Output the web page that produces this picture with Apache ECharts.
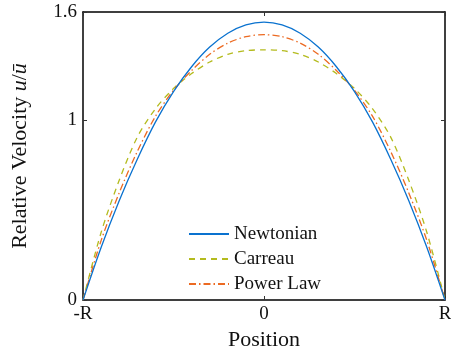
<!DOCTYPE html>
<html>
<head>
<meta charset="utf-8">
<script src="https://cdn.jsdelivr.net/npm/echarts@6/dist/echarts.min.js"></script>
<style>
  html, body { margin: 0; padding: 0; background: #fff; }
  #chart { width: 451px; height: 360px; }
</style>
</head>
<body>
<div id="chart"></div>
<script>
// Radial position across the channel, from -R (-1) to R (1)
const positions = [-1, -0.9, -0.8, -0.7, -0.6, -0.5, -0.4, -0.3, -0.2, -0.1, 0,
                   0.1, 0.2, 0.3, 0.4, 0.5, 0.6, 0.7, 0.8, 0.9, 1];

// Relative velocity u/ū for each fluid model
const newtonian = [0, 0.292, 0.552, 0.782, 0.988, 1.158, 1.296, 1.405, 1.482, 1.528, 1.544,
                   1.528, 1.482, 1.405, 1.296, 1.158, 0.988, 0.782, 0.552, 0.292, 0];
const carreau   = [0, 0.375, 0.665, 0.905, 1.062, 1.175, 1.258, 1.322, 1.365, 1.385, 1.390,
                   1.385, 1.365, 1.322, 1.258, 1.175, 1.062, 0.905, 0.665, 0.375, 0];
const powerLaw  = [0, 0.330, 0.595, 0.825, 1.020, 1.165, 1.275, 1.365, 1.427, 1.463, 1.474,
                   1.463, 1.427, 1.365, 1.275, 1.165, 1.020, 0.825, 0.595, 0.330, 0];

const xTickValues = [-1, 0, 1];
const xTickLabels = ['-R', '0', 'R'];
const yTickValues = [0, 1, 1.6];

const FONT = '"Liberation Serif", "Times New Roman", serif';

const pairs = (ys) => positions.map((x, i) => [x, ys[i]]);

const frameLine = { show: true, onZero: false, lineStyle: { color: '#000', width: 1.5 } };
const tickStyle = { color: '#333', width: 1 };

const chart = echarts.init(document.getElementById('chart'), null, { renderer: 'canvas' });
chart.setOption({
  animation: false,
  backgroundColor: '#fff',
  grid: { left: 83, right: 6, top: 12, bottom: 60, containLabel: false, outerBoundsMode: 'none' },
  legend: {
    orient: 'vertical',
    left: 188,
    top: 224,
    padding: 0,
    itemWidth: 40,
    itemHeight: 14,
    itemGap: 5,
    // line-only keys: hide the marker drawn in the middle of each key
    itemStyle: { opacity: 0, borderWidth: 0 },
    textStyle: { fontFamily: FONT, fontSize: 19, color: '#111', lineHeight: 20 },
    data: ['Newtonian', 'Carreau', 'Power Law']
  },
  xAxis: [
    {
      type: 'value', min: -1, max: 1, interval: 1,
      position: 'bottom',
      axisLine: frameLine, splitLine: { show: false },
      name: 'Position', nameLocation: 'middle', nameGap: 29,
      nameTextStyle: { fontFamily: FONT, fontSize: 22, color: '#111' },
      axisTick: { show: true, inside: true, length: 4, customValues: xTickValues, lineStyle: tickStyle },
      axisLabel: { show: true, margin: 5, customValues: xTickValues, hideOverlap: false,
                   fontFamily: FONT, fontSize: 19, color: '#111',
                   formatter: (v) => xTickLabels[xTickValues.indexOf(v)] }
    },
    {
      type: 'value', min: -1, max: 1, interval: 1,
      position: 'top',
      axisLine: frameLine, splitLine: { show: false },
      axisTick: { show: true, inside: true, length: 4, customValues: xTickValues, lineStyle: tickStyle },
      axisLabel: { show: false }
    }
  ],
  yAxis: [
    {
      type: 'value', min: 0, max: 1.6, interval: 0.2,
      position: 'left',
      axisLine: frameLine, splitLine: { show: false },
      name: 'Relative Velocity {i|u}/{i|ū}', nameLocation: 'middle', nameGap: 52,
      nameRotate: 90,
      nameTextStyle: { fontFamily: FONT, fontSize: 22, color: '#111',
        rich: { i: { fontFamily: FONT, fontSize: 22, fontStyle: 'italic', color: '#111' } } },
      axisTick: { show: true, inside: true, length: 4, customValues: yTickValues, lineStyle: tickStyle },
      axisLabel: { show: true, margin: 6, customValues: yTickValues,
                   fontFamily: FONT, fontSize: 19, color: '#111' }
    },
    {
      type: 'value', min: 0, max: 1.6, interval: 0.2,
      position: 'right',
      axisLine: frameLine, splitLine: { show: false },
      axisTick: { show: true, inside: true, length: 4, customValues: yTickValues, lineStyle: tickStyle },
      axisLabel: { show: false }
    }
  ],
  series: [
    {
      name: 'Newtonian', type: 'line', xAxisIndex: 0, yAxisIndex: 0,
      data: pairs(newtonian), showSymbol: false, symbol: 'none', smooth: 0.3,
      lineStyle: { color: '#0a72cf', width: 1.3, type: 'solid' },
      itemStyle: { color: '#0a72cf' }, z: 3
    },
    {
      name: 'Carreau', type: 'line', xAxisIndex: 0, yAxisIndex: 0,
      data: pairs(carreau), showSymbol: false, symbol: 'none', smooth: 0.3,
      lineStyle: { color: '#b4bb1e', width: 1.3, type: [6, 5] },
      itemStyle: { color: '#b4bb1e' }, z: 2
    },
    {
      name: 'Power Law', type: 'line', xAxisIndex: 0, yAxisIndex: 0,
      data: pairs(powerLaw), showSymbol: false, symbol: 'none', smooth: 0.3,
      lineStyle: { color: '#ec6a22', width: 1.3, type: [7, 3, 1.5, 3] },
      itemStyle: { color: '#ec6a22' }, z: 2
    }
  ]
});
</script>
</body>
</html>
